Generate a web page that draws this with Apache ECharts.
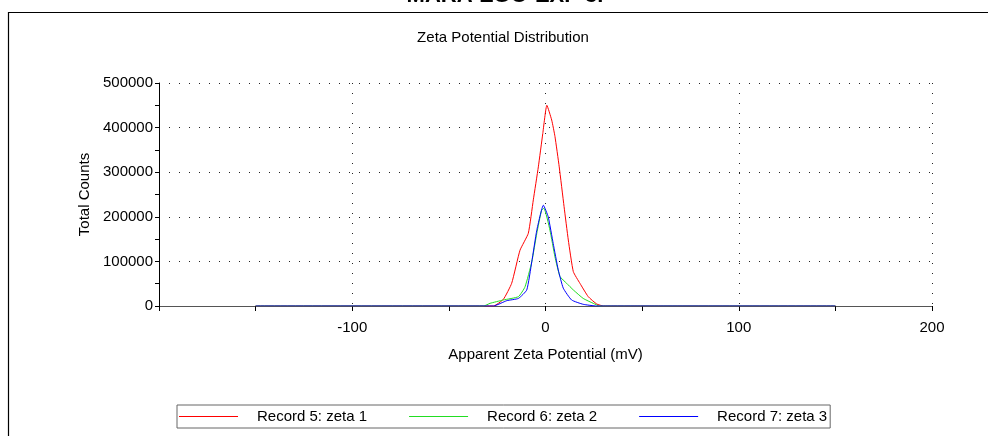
<!DOCTYPE html>
<html>
<head>
<meta charset="utf-8">
<script src="https://cdn.jsdelivr.net/npm/echarts@6/dist/echarts.min.js"></script>
<style>
  html, body { margin: 0; padding: 0; background: #fff; overflow: hidden; }
  #chart { width: 988px; height: 436px; }
</style>
</head>
<body>
<div id="chart"></div>
<script>
// Record 5: zeta 1 (red)
const redX = [-150, -27, -21.8, -17.5, -13.2, -8.9, -6.3, -3.7, -1.4, 0.7, 3.2, 4.9, 7.1, 9.6, 11.8, 14.4, 17.8, 22.1, 26.5, 30, 150];
const redY = [0, 0, 15000, 51000, 125000, 163000, 238000, 312000, 387000, 450000, 417000, 380000, 312000, 223000, 148000, 77000, 51000, 21000, 4500, 0, 0];

// Record 6: zeta 2 (green)
const greenX = [-150, -32, -28.7, -21.8, -14, -10.6, -7.1, -4.5, -2, -0.8, 2.3, 4.9, 7.5, 10.9, 14.4, 19.5, 24.7, 28, 150];
const greenY = [0, 0, 6000, 13500, 21000, 43000, 99000, 163000, 215000, 219000, 170000, 110000, 66000, 51000, 36000, 17000, 6000, 0, 0];

// Record 7: zeta 3 (blue)
const blueX = [-150, -27, -20, -14, -9.7, -7.1, -4.5, -1.1, 1.4, 4, 6.6, 9.2, 13.5, 19.5, 26.5, 150];
const blueY = [0, 0, 12000, 17000, 36000, 99000, 170000, 226000, 200000, 140000, 81000, 40000, 13500, 3800, 0, 0];

const seriesNames = ["Record 5: zeta 1", "Record 6: zeta 2", "Record 7: zeta 3"];
const seriesColors = ["#ff0000", "#22dd22", "#0000ff"];

const FONT = "Liberation Sans, Arial, sans-serif";
const dotted = { color: "#222", width: 1, type: [1, 9] };

const pairs = (xs, ys) => xs.map((x, i) => [x, ys[i]]);
const allData = [pairs(redX, redY), pairs(greenX, greenY), pairs(blueX, blueY)];

const chart = echarts.init(document.getElementById("chart"));

chart.setOption({
  animation: false,
  backgroundColor: "#fff",
  textStyle: { fontFamily: FONT },
  graphic: [
    // 外框：只有左边和上边在画面内
    {
      type: "line",
      shape: { x1: 8.5, y1: 12, x2: 8.5, y2: 436 },
      style: { stroke: "#000", lineWidth: 1.2 },
      silent: true
    },
    {
      type: "line",
      shape: { x1: 8, y1: 12.5, x2: 988, y2: 12.5 },
      style: { stroke: "#000", lineWidth: 1.2 },
      silent: true
    },
    {
      type: "text",
      x: 505,
      y: 7,
      style: {
        text: "MARA-ZGO-EXP 3.",
        font: "bold 22px " + FONT,
        fill: "#000",
        align: "center",
        verticalAlign: "bottom"
      }
    },
    {
      type: "text",
      x: 503,
      y: 38,
      style: {
        text: "Zeta Potential Distribution",
        font: "15px " + FONT,
        fill: "#000",
        align: "center",
        verticalAlign: "middle"
      }
    }
  ],
  grid: { left: 159, right: 56, top: 83, bottom: 130 },
  legend: {
    left: 177,
    top: 405,
    padding: [4, 3, 4, 2],
    borderColor: "#666",
    borderWidth: 1,
    icon: "rect",
    itemWidth: 59,
    itemHeight: 1,
    itemGap: 42,
    data: seriesNames,
    textStyle: { fontSize: 15, color: "#000", fontFamily: FONT, padding: [0, 0, 0, 14] }
  },
  xAxis: {
    type: "value",
    min: -200,
    max: 200,
    interval: 100,
    name: "Apparent Zeta Potential (mV)",
    nameLocation: "middle",
    nameGap: 41,
    nameTextStyle: { fontSize: 15, color: "#000" },
    axisLine: { onZero: true, lineStyle: { color: "#555", width: 1 } },
    axisTick: { show: true, length: 5, lineStyle: { color: "#000" } },
    minorTick: { show: true, splitNumber: 2, length: 5, lineStyle: { color: "#000" } },
    axisLabel: {
      fontSize: 15,
      color: "#000",
      margin: 14,
      formatter: (v) => (v === -200 ? "" : String(v))
    },
    splitLine: { show: true, lineStyle: dotted }
  },
  yAxis: {
    type: "value",
    min: 0,
    max: 500000,
    interval: 100000,
    name: "Total Counts",
    nameLocation: "middle",
    nameGap: 67,
    nameTextStyle: { fontSize: 15, color: "#000" },
    axisLine: { show: true, onZero: false, lineStyle: { color: "#000", width: 1 } },
    axisTick: { show: true, length: 4, lineStyle: { color: "#000" } },
    minorTick: { show: true, splitNumber: 2, length: 4, lineStyle: { color: "#000" } },
    axisLabel: { fontSize: 15, color: "#000", margin: 6, formatter: (v) => String(v) },
    splitLine: { show: true, lineStyle: dotted }
  },
  series: seriesNames.map((name, i) => ({
    name,
    type: "line",
    data: allData[i],
    symbol: "none",
    smooth: 0.15,
    color: seriesColors[i],
    lineStyle: { width: 1, color: seriesColors[i] }
  }))
});
</script>
</body>
</html>
